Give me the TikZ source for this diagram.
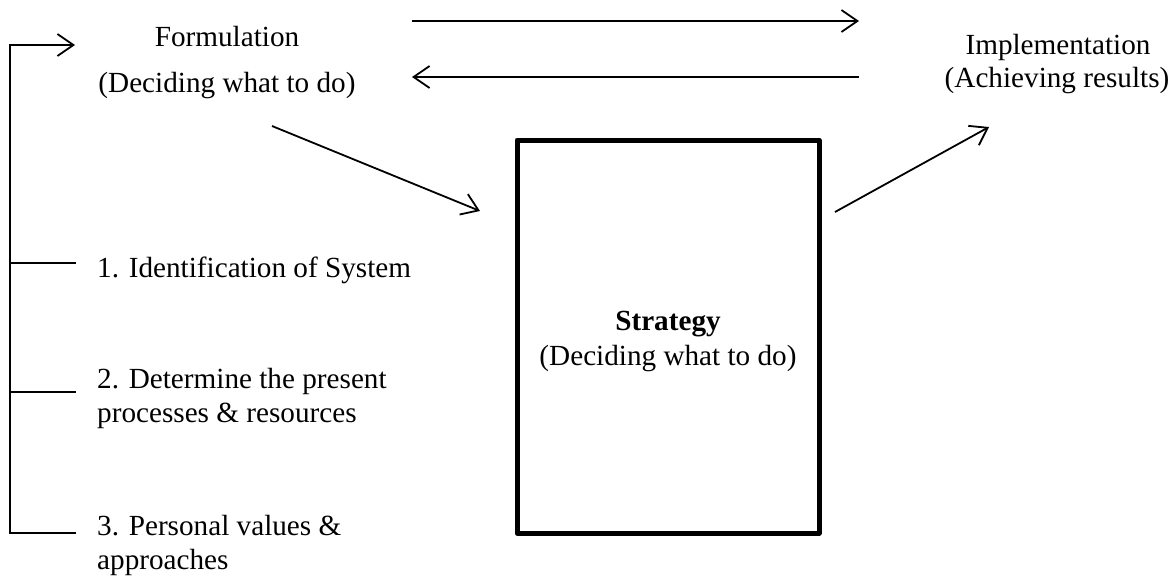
\documentclass[tikz,border=0pt]{standalone}
\usepackage{fontspec}
\setmainfont{Liberation Serif}
\usetikzlibrary{arrows.meta}
\begin{document}
\begin{tikzpicture}[x=1pt,y=-1pt,
  txt/.style={inner sep=0pt,font=\fontsize{29.2}{34}\selectfont},
  link/.style={line width=1.8pt},
  arr/.style={link,-{Straight Barb[length=16pt,width=22pt,line width=1.8pt]}},
  stratbox/.style={draw,line width=5pt,line join=round,inner sep=0pt}]
\useasboundingbox (0,0) rectangle (1174,578);

% text labels
\node[txt,anchor=base] (form1) at (227,47) {Formulation};
\node[txt,anchor=base] (form2) at (227,92) {(Deciding what to do)};
\node[txt,anchor=base] (impl1) at (1058,55) {Implementation};
\node[txt,anchor=base] (impl2) at (1057,87) {(Achieving results)};
\node[txt,anchor=base west] (item1) at (97,277) {1. Identification of System};
\node[txt,anchor=base west] (item2a) at (97,388) {2. Determine the present};
\node[txt,anchor=base west] (item2b) at (97,422) {processes \& resources};
\node[txt,anchor=base west] (item3a) at (97,535) {3. Personal values \&};
\node[txt,anchor=base west] (item3b) at (97,569) {approaches};

% strategy box
\node[stratbox,minimum width=302pt,minimum height=393pt] (box) at (668,336.5) {};
\node[txt,anchor=base] (strat1) at (668,330) {\textbf{Strategy}};
\node[txt,anchor=base] (strat2) at (668,365) {(Deciding what to do)};

% connector end points
\coordinate (fwdA) at (412,21);
\coordinate (fwdB) at (859,21);
\coordinate (backA) at (859,77);
\coordinate (backB) at (412,77);
\coordinate (inA) at (272,126);
\coordinate (inB) at (480,211);
\coordinate (outA) at (835,212);
\coordinate (outB) at (989,127);
\coordinate (brTop) at (10,45);
\coordinate (brTip) at (75,45);
\coordinate (brBot) at (10,533);
\coordinate (b1a) at (10,263);
\coordinate (b1b) at (76,263);
\coordinate (b2a) at (10,392);
\coordinate (b2b) at (76,392);
\coordinate (b3b) at (76,533);

% arrows
\draw[arr] (fwdA) -- (fwdB);
\draw[arr] (backA) -- (backB);
\draw[arr] (inA) -- (inB);
\draw[arr] (outA) -- (outB);

% feedback bracket
\draw[arr,line join=miter] (b3b) -- (brBot) -- (brTop) -- (brTip);
\draw[link] (b1a) -- (b1b);
\draw[link] (b2a) -- (b2b);
\end{tikzpicture}
\end{document}
